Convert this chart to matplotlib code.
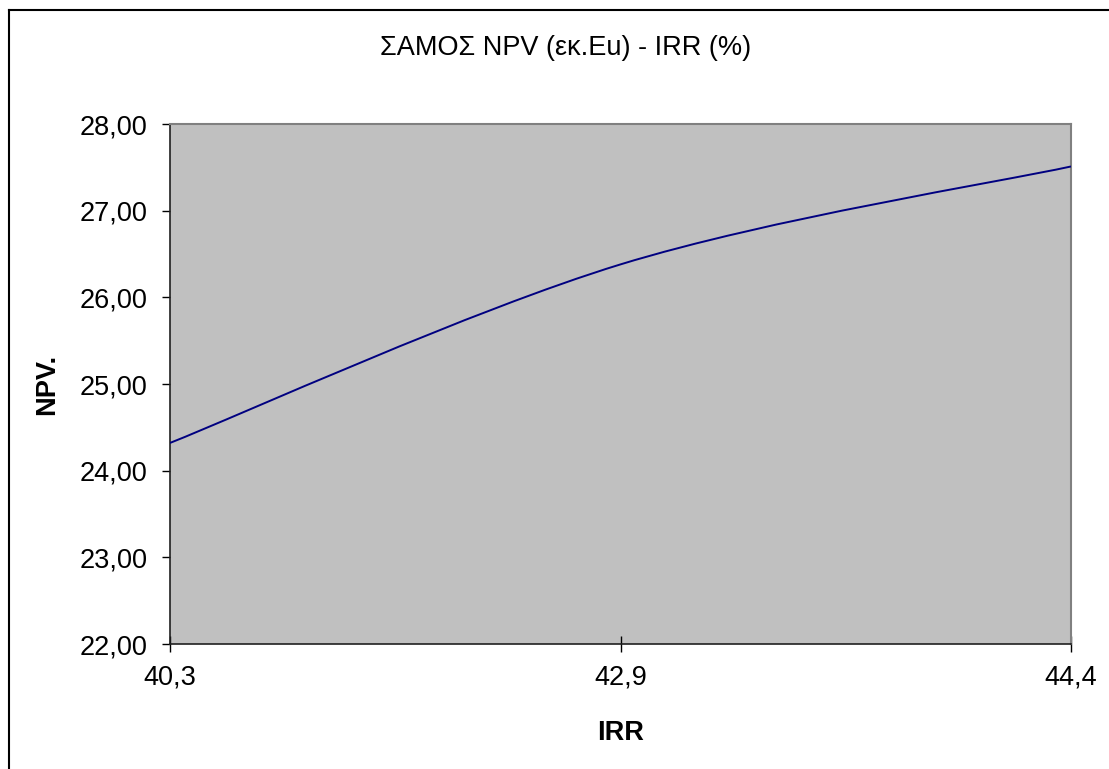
import matplotlib
matplotlib.use("Agg")
import matplotlib.pyplot as plt
from matplotlib.path import Path
from matplotlib.patches import PathPatch
from matplotlib.lines import Line2D

# ---- data ----
irr_labels = ["40,3", "42,9", "44,4"]
npv_values = [24.32, 26.38, 27.51]
y_ticks = [22, 23, 24, 25, 26, 27, 28]
y_tick_labels = ["22,00", "23,00", "24,00", "25,00", "26,00", "27,00", "28,00"]
title = "ΣΑΜΟΣ NPV (εκ.Eu) - IRR (%)"
x_label = "IRR"
y_label = "NPV."

plt.rcParams['font.family'] = ['Liberation Sans', 'DejaVu Sans']

W, H = 1109, 769
FS = 19.5
fig = plt.figure(figsize=(W / 100, H / 100), dpi=100)
fig.patch.set_facecolor('white')

ax = fig.add_axes([170 / W, 1 - 644 / H, (1071 - 170) / W, (644 - 124) / H])
ax.set_facecolor('#C0C0C0')

# Excel-style smoothed line (cubic Bezier through the data points)
xs = list(range(len(npv_values)))
n = len(xs)
verts = [(xs[0], npv_values[0])]
codes = [Path.MOVETO]
for i in range(n - 1):
    a = max(i - 1, 0)
    d = min(i + 2, n - 1)
    p0 = (xs[a], npv_values[a])
    p1 = (xs[i], npv_values[i])
    p2 = (xs[i + 1], npv_values[i + 1])
    p3 = (xs[d], npv_values[d])
    c1 = (p1[0] + (p2[0] - p0[0]) / 6, p1[1] + (p2[1] - p0[1]) / 6)
    c2 = (p2[0] - (p3[0] - p1[0]) / 6, p2[1] - (p3[1] - p1[1]) / 6)
    verts += [c1, c2, p2]
    codes += [Path.CURVE4] * 3
ax.add_patch(PathPatch(Path(verts, codes), facecolor='none', edgecolor='#000080',
                       linewidth=1.4, zorder=3))

ax.set_xlim(0, n - 1)
ax.set_ylim(22, 28)
ax.set_xticks(xs)
ax.set_xticklabels(irr_labels, fontsize=FS)
ax.set_yticks(y_ticks)
ax.set_yticklabels(y_tick_labels, fontsize=FS)

ax.tick_params(axis='y', direction='out', length=6, width=1, pad=10, colors='black')
ax.tick_params(axis='x', direction='inout', length=12, width=1, pad=9, colors='black')

for s in ['top', 'right']:
    ax.spines[s].set_color('#808080')
    ax.spines[s].set_linewidth(1.5)
for s in ['left', 'bottom']:
    ax.spines[s].set_color('#202020')
    ax.spines[s].set_linewidth(1.2)

ax.set_xlabel(x_label, fontsize=FS, fontweight='bold', labelpad=21)
ax.set_ylabel(y_label, fontsize=FS, fontweight='bold', labelpad=14)
fig.text(566 / W, 1 - 48 / H, title, fontsize=FS, ha='center', va='center')

# outer chart border (cropped at right/bottom)
fig.add_artist(Line2D([8.5 / W, 1.0], [1 - 10 / H, 1 - 10 / H], color='black', linewidth=1.5))
fig.add_artist(Line2D([8.5 / W, 8.5 / W], [0.0, 1 - 10 / H], color='black', linewidth=1.5))

fig.savefig("out.png", dpi=100)
